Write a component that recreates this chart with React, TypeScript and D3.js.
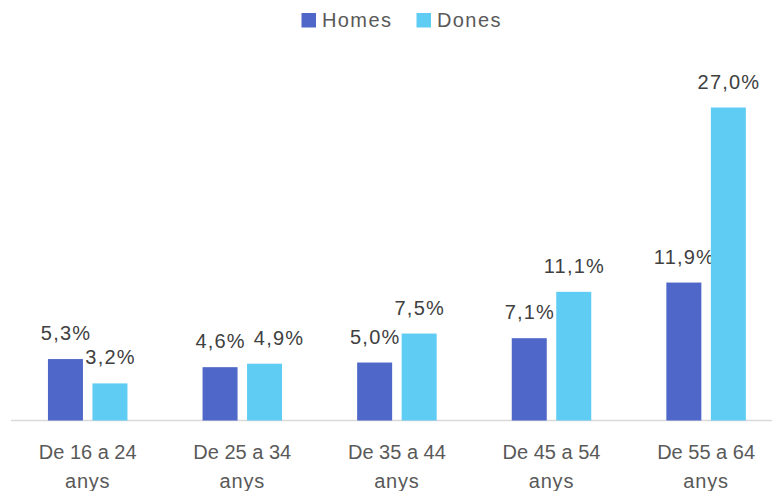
import React from "react";
import * as d3 from "d3";

const categories = ["De 16 a 24 anys", "De 25 a 34 anys", "De 35 a 44 anys", "De 45 a 54 anys", "De 55 a 64 anys"];
const seriesNames = ["Homes", "Dones"];
const homes = [5.3, 4.6, 5.0, 7.1, 11.9];
const dones = [3.2, 4.9, 7.5, 11.1, 27.0];
const colors = ["#4E67C8", "#5ECCF3"];

const W = 772, H = 491;
const baseY = 420.5;
const font = "'Liberation Sans', Arial, sans-serif";
const labelSize = 20;
const labelSpacing = 1.2;

function labelWidth(s: string) {
  const w: Record<string, number> = { ",": 0.278, "%": 0.889 };
  let t = 0;
  for (const ch of s) t += (w[ch] ?? 0.556) * labelSize + labelSpacing;
  return t;
}

export default function App() {
  const x = d3.scaleBand<string>().domain(categories).range([10.4, 783.4]).paddingInner(0).paddingOuter(0);
  const y = d3.scaleLinear().domain([0, 27]).range([baseY, 107.5]);
  const barW = 35, gap = 9.5;
  const series = [homes, dones];
  const fmt = (v: number) => v.toFixed(1).replace(".", ",") + "%";
  return (
    <svg width={W} height={H} style={{ position: "absolute", left: 0, top: 0, background: "#fff" }}>
      <line x1={11} x2={772} y1={baseY} y2={baseY} stroke="#d9d9d9" strokeWidth={1.5} />
      {categories.map((c, i) => {
        const cx = x(c)! + x.bandwidth() / 2;
        const words = c.split(" ");
        // label placement with simple collision avoidance
        const hx = cx - gap / 2 - barW / 2;
        const dx = cx + gap / 2 + barW / 2;
        const ht = fmt(homes[i]), dt = fmt(dones[i]);
        const hy = y(homes[i]) - 19, dy = y(dones[i]) - 19;
        let dCenter = dx;
        const hRight = hx + labelWidth(ht) / 2;
        const dLeft = dx - labelWidth(dt) / 2;
        if (Math.abs(hy - dy) < 16 && dLeft < hRight + 8) dCenter = dx + (hRight + 8 - dLeft);
        const labels = [{ t: ht, x: hx, y: hy }, { t: dt, x: dCenter, y: dy }];
        return (
          <g key={c}>
            {series.map((s, j) => {
              const bx = j === 0 ? cx - gap / 2 - barW : cx + gap / 2;
              const top = y(s[i]);
              return (
                <g key={j}>
                  <rect x={bx} y={top} width={barW} height={baseY - top} fill={colors[j]} />
                  <text x={labels[j].x + labelSpacing / 2} y={labels[j].y} textAnchor="middle" fontFamily={font} fontSize={labelSize} fill="#404040" letterSpacing={labelSpacing}>{labels[j].t}</text>
                </g>
              );
            })}
            <text x={cx} y={459} textAnchor="middle" fontFamily={font} fontSize={20} fill="#595959">{words.slice(0, 4).join(" ")}</text>
            <text x={cx} y={488} textAnchor="middle" fontFamily={font} fontSize={20} fill="#595959" letterSpacing={0.8}>{words.slice(4).join(" ")}</text>
          </g>
        );
      })}
      {seriesNames.map((n, j) => {
        const lx = j === 0 ? 301.5 : 416.5;
        return (
          <g key={n}>
            <rect x={lx} y={13} width={14.5} height={14.5} fill={colors[j]} />
            <text x={lx + 20.5} y={27.3} fontFamily={font} fontSize={20} fill="#595959" letterSpacing={1.4}>{n}</text>
          </g>
        );
      })}
    </svg>
  );
}
